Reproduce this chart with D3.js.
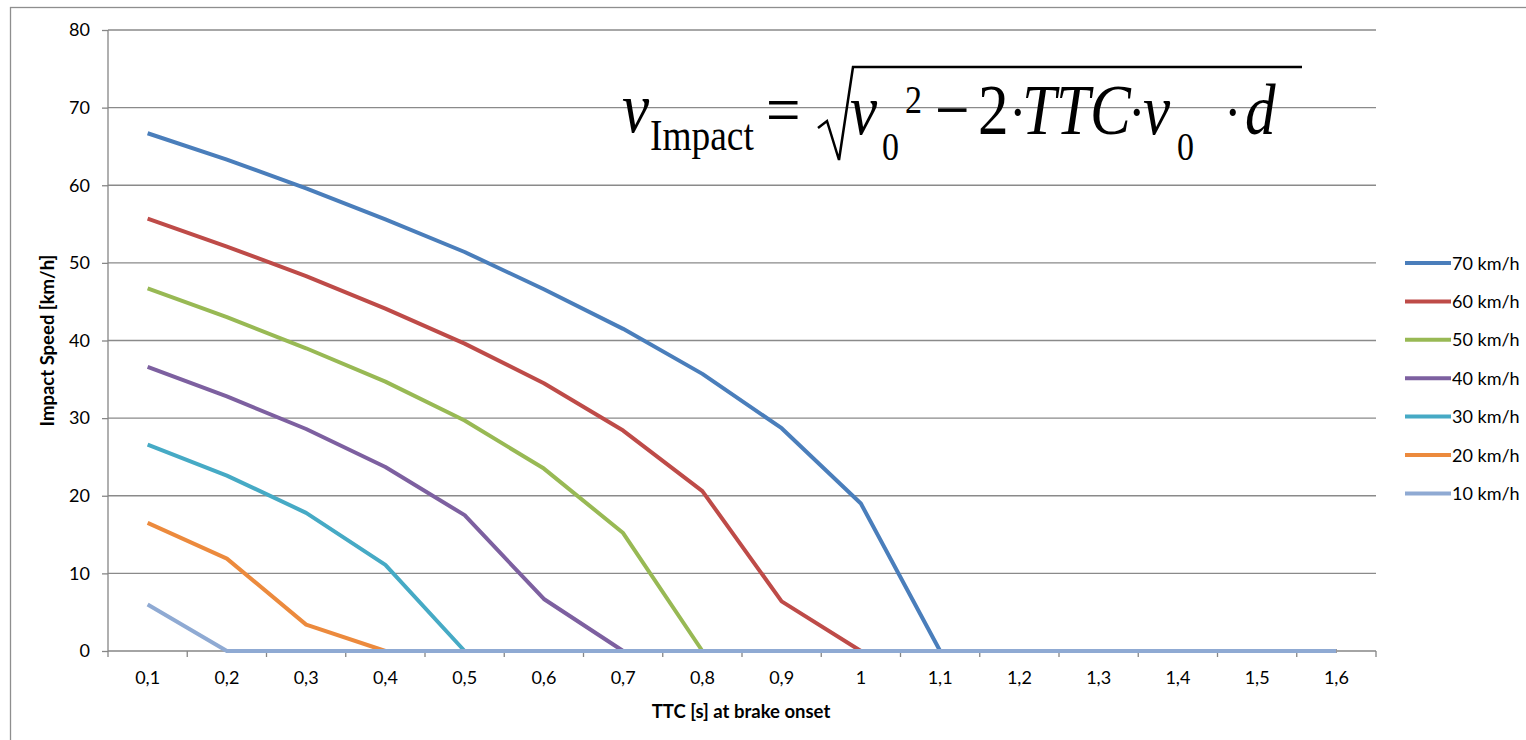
<html>
   <head>
      <title>Impact speed vs TTC</title>
      <script src="https://d3js.org/d3.v7.min.js" charset="utf-8"></script>
      <style>
         body {
            margin: 0;
            background: white;
            font-family: "Lato", "Open Sans", sans-serif;
         }
         .tick text {
            font-size: 18px;
            font-family: "Lato", "Open Sans", sans-serif;
            fill: #000;
         }
         .formula text {
            font-family: "Liberation Serif", "Times New Roman", serif;
            fill: #000;
         }
      </style>
   </head>
   <body>
      <script>
         var width = 1526;
         var height = 740;

         var categories = ["0,1","0,2","0,3","0,4","0,5","0,6","0,7","0,8","0,9","1","1,1","1,2","1,3","1,4","1,5","1,6"];
         var seriesNames = ["70 km/h","60 km/h","50 km/h","40 km/h","30 km/h","20 km/h","10 km/h"];
         var colors = ["#4A7EBB","#BE4B48","#98B954","#7D60A0","#46AAC5","#EC8A3D","#8FAAD3"];

         var v70 = [66.7, 63.3, 59.6, 55.6, 51.4, 46.6, 41.5, 35.7, 28.7, 19.0, 0, 0, 0, 0, 0, 0];
         var v60 = [55.7, 52.1, 48.3, 44.1, 39.6, 34.5, 28.4, 20.6, 6.4, 0, 0, 0, 0, 0, 0, 0];
         var v50 = [46.7, 43.0, 39.0, 34.7, 29.7, 23.5, 15.2, 0, 0, 0, 0, 0, 0, 0, 0, 0];
         var v40 = [36.6, 32.8, 28.6, 23.7, 17.5, 6.7, 0, 0, 0, 0, 0, 0, 0, 0, 0, 0];
         var v30 = [26.6, 22.6, 17.8, 11.1, 0, 0, 0, 0, 0, 0, 0, 0, 0, 0, 0, 0];
         var v20 = [16.5, 11.9, 3.4, 0, 0, 0, 0, 0, 0, 0, 0, 0, 0, 0, 0, 0];
         var v10 = [6.0, 0, 0, 0, 0, 0, 0, 0, 0, 0, 0, 0, 0, 0, 0, 0];
         var series = [v70, v60, v50, v40, v30, v20, v10];

         var yTicks = [0, 10, 20, 30, 40, 50, 60, 70, 80];

         var svg = d3.select("body")
            .append("svg")
            .attr("width", width)
            .attr("height", height);

         // outer chart frame
         svg.append("rect")
            .attr("x", 10.5).attr("y", 7.5)
            .attr("width", 1540).attr("height", 760)
            .attr("fill", "none")
            .attr("stroke", "#8e8e8e")
            .attr("stroke-width", 1.3);

         var pLeft = 108, pRight = 1376, pTop = 30, pBottom = 651;

         var x = d3.scaleBand().domain(categories).range([pLeft, pRight]).padding(0);
         var y = d3.scaleLinear().domain([0, 80]).range([pBottom, pTop]);

         // gridlines
         svg.append("g")
            .selectAll("line")
            .data(yTicks.filter(function(d){ return d > 0; }))
            .enter()
            .append("line")
            .attr("x1", pLeft).attr("x2", pRight)
            .attr("y1", function(d){ return y(d); })
            .attr("y2", function(d){ return y(d); })
            .attr("stroke", "#8a8a8a")
            .attr("stroke-width", 1.3);

         // y axis
         var yAxis = svg.append("g")
            .attr("transform", "translate(" + pLeft + ",0)")
            .call(d3.axisLeft(y).tickValues(yTicks).tickSize(6).tickPadding(12));
         yAxis.selectAll("path, line").attr("stroke", "#868686").attr("stroke-width", 1.3);
         yAxis.select(".domain").attr("d", "M0," + pTop + "V" + pBottom);

         // x axis, ticks on category boundaries
         var xAxis = svg.append("g")
            .attr("transform", "translate(0," + pBottom + ")")
            .call(d3.axisBottom(x).tickSize(0).tickPadding(20));
         xAxis.select(".domain").attr("d", "M" + pLeft + ",0H" + pRight).attr("stroke", "#868686").attr("stroke-width", 1.3);
         xAxis.selectAll(".tick line").remove();
         svg.append("g")
            .selectAll("line")
            .data(categories.concat(["end"]))
            .enter()
            .append("line")
            .attr("x1", function(d, i){ return pLeft + i * x.bandwidth(); })
            .attr("x2", function(d, i){ return pLeft + i * x.bandwidth(); })
            .attr("y1", pBottom).attr("y2", pBottom + 6)
            .attr("stroke", "#868686")
            .attr("stroke-width", 1.3);

         // axis titles
         svg.append("text")
            .attr("transform", "translate(54," + ((pTop + pBottom) / 2) + ") rotate(-90)")
            .attr("text-anchor", "middle")
            .attr("font-weight", "bold")
            .attr("font-size", 18.5)
            .text("Impact Speed [km/h]");
         svg.append("text")
            .attr("x", 741)
            .attr("y", 718)
            .attr("text-anchor", "middle")
            .attr("font-weight", "bold")
            .attr("font-size", 18.5)
            .text("TTC [s] at brake onset");

         // lines
         var line = d3.line()
            .x(function(d, i){ return x(categories[i]) + x.bandwidth() / 2; })
            .y(function(d){ return y(d); });

         svg.append("g")
            .selectAll("path")
            .data(series)
            .enter()
            .append("path")
            .attr("d", line)
            .attr("fill", "none")
            .attr("stroke", function(d, i){ return colors[i]; })
            .attr("stroke-width", 4)
            .attr("stroke-linejoin", "round");

         // legend
         var legend = svg.append("g")
            .selectAll("g")
            .data(seriesNames)
            .enter()
            .append("g")
            .attr("transform", function(d, i){ return "translate(1405," + (263 + i * 38.4) + ")"; });
         legend.append("line")
            .attr("x1", 0).attr("x2", 46)
            .attr("stroke", function(d, i){ return colors[i]; })
            .attr("stroke-width", 4);
         legend.append("text")
            .attr("x", 47).attr("y", 6.5)
            .attr("font-size", 18)
            .text(function(d){ return d; });

         // formula
         var f = svg.append("g").attr("class", "formula");
         function piece(txt, px, py, size, italic){
            f.append("text")
               .attr("transform", "translate(" + px + "," + py + ") scale(0.85,1)")
               .attr("font-size", size)
               .attr("font-style", italic ? "italic" : "normal")
               .text(txt);
         }
         piece("v", 622, 132, 72, true);
         piece("Impact", 650, 150, 44, false);
         piece("=", 766, 134, 72, false);
         f.append("path")
            .attr("d", "M818,128 L827,121 L839,160 L853,67 L1302,67")
            .attr("fill", "none")
            .attr("stroke", "#000")
            .attr("stroke-width", 2.5);
         piece("v", 850, 134, 72, true);
         piece("0", 882, 160, 40, false);
         piece("2", 905, 113, 40, false);
         piece("\u2212", 935, 134, 72, false);
         piece("2", 978, 134, 72, false);
         piece("\u00b7", 1009, 133, 62, false);
         piece("TTC", 1022, 134, 72, true);
         piece("\u00b7", 1128, 133, 62, false);
         piece("v", 1143, 134, 72, true);
         piece("0", 1177, 160, 40, false);
         piece("\u00b7", 1224, 133, 62, false);
         piece("d", 1245, 134, 72, true);
      </script>
   </body>
</html>
